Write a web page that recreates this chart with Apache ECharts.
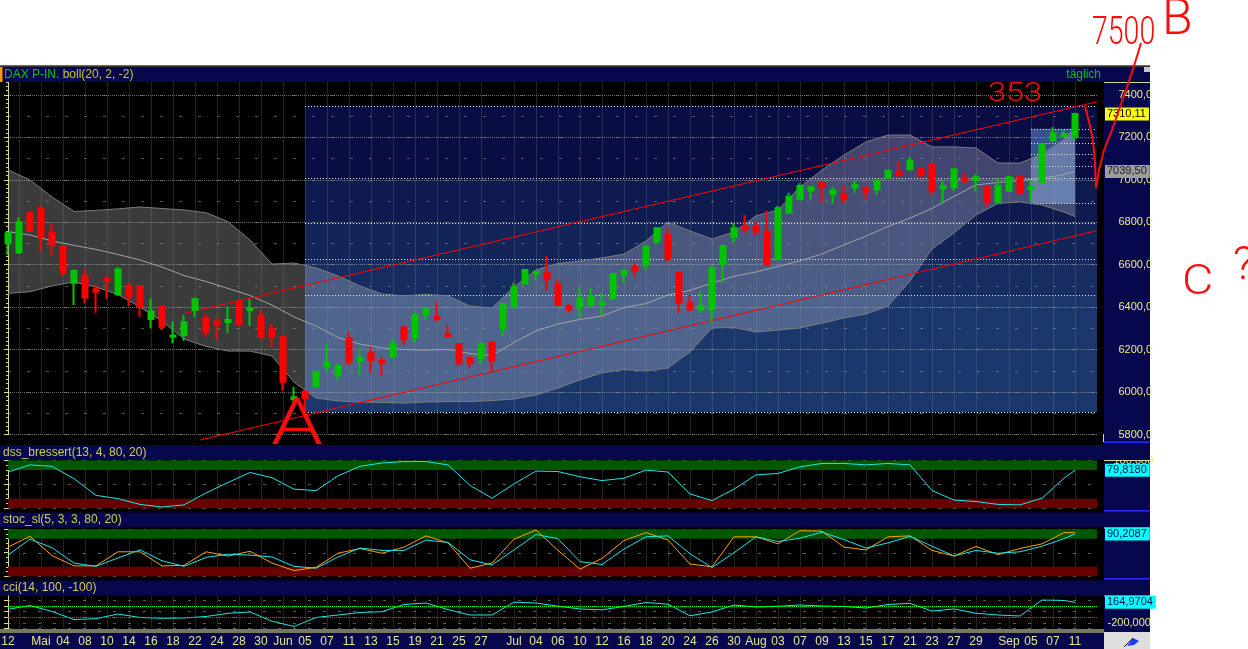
<!DOCTYPE html>
<html><head><meta charset="utf-8">
<script src="https://cdn.jsdelivr.net/npm/echarts@6/dist/echarts.min.js"></script>
<style>html,body{margin:0;padding:0;background:#ffffff;}#c{width:1248px;height:649px;}</style>
</head><body><div id="c"></div>
<script>
// ---------------- DATA ----------------
const candleOpen = [6701,6659,6845,6863,6751,6685,6515,6547,6484,6531,
 6462,6500,6500,6344,6402,6261,6269,6387,6348,6332,
 6330,6426,6387,6358,6296,6258,5967,6002,6029,6120,
 6080,6253,6148,6183,6146,6167,6303,6258,6366,6355,
 6274,6226,6159,6159,6233,6300,6405,6512,6560,6560,
 6509,6405,6398,6410,6413,6442,6556,6588,6599,6709,
 6740,6562,6418,6390,6390,6603,6729,6779,6779,6756,
 6626,6845,6908,6949,6984,6933,6933,6965,6955,6955,
 7012,7038,7050,7050,7070,6960,6965,7007,6999,6965,
 6897,6949,7012,6955,6991,7184,7207,7200];
const candleClose = [6748,6800,6760,6732,6693,6562,6570,6445,6473,6523,
 6578,6453,6402,6379,6308,6266,6329,6437,6284,6319,
 6340,6321,6395,6258,6264,6049,5975,5971,6096,6138,
 6123,6143,6159,6151,6138,6226,6249,6363,6390,6343,
 6264,6136,6138,6226,6148,6415,6494,6575,6567,6531,
 6410,6390,6438,6453,6421,6556,6572,6575,6685,6772,
 6626,6421,6390,6405,6583,6688,6772,6767,6756,6603,
 6866,6920,6971,6965,6971,6949,6908,6976,6944,6996,
 7043,7028,7090,7023,6949,6971,7050,6996,7012,6897,
 6971,7012,6939,6965,7169,7219,7216,7310.11];
const candleLow = [6646,6651,6756,6665,6646,6547,6410,6418,6374,6437,
 6453,6405,6355,6300,6292,6230,6242,6352,6261,6249,
 6280,6311,6311,6258,6211,6006,5939,5914,6020,6096,
 6053,6127,6080,6091,6080,6159,6222,6233,6340,6332,
 6258,6123,6112,6132,6096,6264,6395,6509,6525,6478,
 6405,6374,6352,6399,6363,6434,6512,6541,6578,6698,
 6619,6371,6379,6374,6327,6515,6704,6751,6735,6594,
 6626,6845,6902,6908,6892,6886,6886,6937,6908,6929,
 7003,7012,7043,7007,6924,6886,6949,6980,6944,6873,
 6897,6944,6924,6897,6984,7180,7203,7191];
const candleHigh = [6756,6824,6850,6878,6795,6685,6578,6575,6504,6547,
 6588,6515,6504,6442,6410,6332,6363,6446,6368,6348,
 6402,6434,6437,6387,6321,6258,6025,6010,6100,6226,
 6138,6284,6206,6214,6164,6249,6316,6374,6402,6426,
 6316,6230,6170,6233,6242,6415,6515,6578,6572,6641,
 6531,6418,6489,6494,6468,6560,6578,6610,6693,6776,
 6772,6567,6457,6478,6594,6693,6795,6834,6803,6855,
 6877,6939,6984,6965,6991,6965,6976,6996,6971,7003,
 7046,7085,7106,7050,7081,6996,7050,7034,7028,6976,
 7007,7018,7018,6999,7175,7248,7235,7316];

// indices (trading days) at which the band / indicator lines were read
const sampleIdx = [0,2,4,6,8,10,12,14,16,18,20,22,24,26,28,30,32,34,36,38,40,42,44,46,48,
 50,52,54,56,58,60,62,64,66,68,70,72,74,76,78,80,82,84,86,88,90,92,94,96,97];
const bandUpper = [7046,6999,6919,6851,6856,6863,6872,6865,6858,6845,6803,6716,6603,6608,6585,6547,6500,6462,6453,6460,6453,6405,6396,6495,6575,
 6606,6617,6632,6650,6712,6801,6759,6721,6754,6830,6858,6966,7046,7117,7178,7211,7211,7155,7155,7150,7079,7079,7120,7190,7250];
const bandMiddle = [6756,6740,6712,6691,6672,6648,6622,6589,6549,6521,6488,6455,6410,6354,6311,6257,6226,6208,6200,6198,6201,6181,6172,6234,6288,
 6321,6342,6358,6398,6417,6457,6479,6514,6545,6566,6592,6618,6651,6693,6735,6780,6820,6865,6922,6976,6987,6997,7006,7025,7039.5];
const bandLower = [6465,6473,6500,6519,6495,6460,6401,6335,6250,6215,6193,6193,6170,6047,5972,5958,5953,5951,5948,5953,5955,5955,5960,5967,5986,
 6019,6057,6090,6106,6099,6113,6189,6302,6304,6283,6292,6302,6325,6349,6368,6405,6523,6674,6750,6834,6889,6896,6881,6848,6827];
const dssValues = [76,91,88,62,27,20,8,2.5,7,32,54,75,64,40,37,68,88,95,98,98,91,48,21,51,78,
 77,66,58,63,80,76,30,16,40,70,73,87,94,94,91,94,91,37,17,14,8,7,21,63,79.818];
const stocK = [62,85,44,22,22,52,52,22,23,52,43,53,28,12,19,49,59,49,62,86,71,17,28,79,98.5,
 55,15,38,76,93,77,26,20,84,84,69,97,96,62,56,84,86,55,43,63.5,46,59,69,93,93];
const stocD = [45,79,61,28,21,39,56,33,21,40,47,45,41,21,17,41,60,55,55,77,72,35,24,56,89,
 80,31,25,58,84,86,48,18.5,50,84,74,81,94,78,60,71,85,64,43,55,49,52,64,80,90.2087];
const cciValues = [42,109,4,-138,-123,-41,-102,-116,-111,-85,-28,-5,-168,-261,-102,-58,-14,0,127,153,37,-58,-58,168,153,
 97,48,33,93,162,132,-72,-5,118,83,95,118,101,92,65,127,148,12,48,-28,-58,-76,206,198,164.9704];

// x-axis tick labels (trading-day index -> text) and vertical grid positions
const labelIdx = [0,3,5,7,9,11,13,15,17,19,21,23,25,27,29,31,33,35,37,39,41,43,46,48,50,52,54,56,58,60,62,64,66,68,70,72,74,76,78,80,82,84,86,88,91,93,95,97];
const labelText = ['12','Mai','04','08','10','14','16','18','22','24','28','30','Jun','05','07','11','13','15','19','21','25','27','Jul','04','06','10','12','16','18','20','24','26','30','Aug','03','07','09','13','15','17','21','23','27','29','Sep','05','07','11'];
const gridIdx = [1,3,5,7,9,11,13,15,17,19,21,23,25,27,29,31,33,35,37,39,41,43,46,48,50,52,54,56,58,60,62,64,66,68,70,72,74,76,78,80,82,84,86,88,91,93,95,97];

// Fibonacci retracements and trend channel
const fibLevels = [0, 23.6, 38.2, 50, 61.8, 100];
const fibLabels = ['0,0%','23,6%','38,2%','50,0%','61,8%','100,0%'];
const fibMainRange = [27, 99, 7350, 5905];     // fromIdx, toIdx, high, low
const fibSmallRange = [93, 99, 7350, 6889];
const fibSmallBoxEnd = 97;
const fibSmallLabelled = [0, 61.8, 100];
const trendUpper = [[16.1, 6371], [99, 7368]];
const trendLower = [[17.45, 5774], [99, 6760]];

const lastClose = 7310.11, lastMiddle = 7039.50, lastDss = 79.8180, lastStoc = 90.2087, lastCci = 164.9704;

// ---------------- BUILD ----------------
const N = 100;
const cats = Array.from({length: N}, (_, i) => String(i));
const labelMap = {}; labelIdx.forEach((k, j) => labelMap[k] = labelText[j]);
const gridSet = new Set(gridIdx);
const labelSet = new Set(labelIdx);
const pairs = vals => sampleIdx.map((k, j) => [k, vals[j]]);
const fibPrice = (r, lvl) => r[2] - (r[2] - r[3]) * lvl / 100;
const candleData = candleOpen.map((o, i) => [o, candleClose[i], candleLow[i], candleHigh[i]]);

const FONT = '"Liberation Sans", Arial, sans-serif';
const NAVY = '#07074e';
const AX = '#d8d890';

const zoneColors = ['#0a0d44', '#0f1a50', '#132458', '#172d62', '#1b376c', 'rgba(95,140,210,0.55)'];
const fibZones = [];
for (let k = 0; k < fibLevels.length - 1; k++) {
  fibZones.push([fibMainRange[0], fibMainRange[1], fibPrice(fibMainRange, fibLevels[k]), fibPrice(fibMainRange, fibLevels[k + 1])]);
}
fibZones.push([fibSmallRange[0], fibSmallBoxEnd, fibPrice(fibSmallRange, 23.6), fibPrice(fibSmallRange, 100)]);

const fibLineData = [];
fibLevels.forEach(l => fibLineData.push([fibMainRange[0], fibMainRange[1], fibPrice(fibMainRange, l)]));
fibLevels.forEach(l => fibLineData.push([fibSmallRange[0], fibSmallRange[1], fibPrice(fibSmallRange, l)]));

const fibTextData = [];
fibLevels.forEach((l, k) => fibTextData.push({value: [fibMainRange[0], fibPrice(fibMainRange, l)], txt: fibLabels[k]}));
fibSmallLabelled.forEach(l => fibTextData.push({value: [fibSmallRange[0], fibPrice(fibSmallRange, l)], txt: fibLabels[fibLevels.indexOf(l)]}));

const comma = (v, d) => v.toFixed(d).replace('.', ',');

function tag(value, text, bg, fg) {
  return {yAxis: value, lineStyle: {color: 'rgba(0,0,0,0)', width: 1},
    label: {show: true, position: 'end', distance: 8, formatter: text, backgroundColor: bg, color: fg,
      fontSize: 11, fontFamily: FONT, padding: [1, 3, 0, 2], lineHeight: 12}};
}

const G = {left: 8, width: 1089, outerBoundsMode: 'none', containLabel: false};
function catAxis(gi, withLabels) {
  return {type: 'category', gridIndex: gi, data: cats, boundaryGap: false,
    axisLine: {show: false}, axisTick: {show: false},
    axisLabel: withLabels ? {show: true, interval: (i) => labelSet.has(i), formatter: (v) => labelMap[Number(v)] || '',
      color: '#e6e68c', fontSize: 12, fontFamily: FONT, margin: 7} : {show: false},
    splitLine: {show: true, interval: (i) => gridSet.has(i), lineStyle: {color: 'rgba(150,150,150,0.45)', type: 'dotted', width: 1}}};
}
function valAxis(gi) { return {type: 'value', gridIndex: gi, min: 0, max: 99, show: false}; }
function rightAxis(gi, extra) {
  return Object.assign({type: 'value', gridIndex: gi, position: 'right', offset: 6.5,
    axisLine: {show: true, lineStyle: {color: AX, width: 1}},
    axisTick: {show: true, inside: true, length: 4, lineStyle: {color: AX}},
    splitLine: {show: true, lineStyle: {color: 'rgba(150,150,150,0.6)', type: [3, 12]}}}, extra);
}

function rect(x, y, w, h, fill, z) { return {type: 'rect', shape: {x, y, width: w, height: h}, style: {fill}, z, silent: true}; }
function txt(x, y, text, style, z, extra) {
  return Object.assign({type: 'text', x, y, style: Object.assign({text}, style), z: z || 8, silent: true}, extra || {});
}
const RED = '#ff0a0a';
const HAND = (size) => ({fill: RED, fontSize: size, fontFamily: 'Roboto, "DejaVu Sans", sans-serif', fontWeight: 300});

const graphics = [
  rect(0, 66, 1150, 583, '#000000', -10),
  rect(1104, 82, 46, 363, NAVY, -9),
  rect(1104, 460, 46, 53, NAVY, -9),
  rect(1104, 527, 46, 54, NAVY, -9),
  rect(1104, 595, 46, 38, NAVY, -9),
  rect(0, 633, 1150, 16, NAVY, -9),
  rect(0, 65, 1150, 1.5, '#6a6a6a', 6),
  rect(0, 67, 1150, 15, NAVY, 5),
  rect(0, 445, 1150, 15, NAVY, 5),
  rect(0, 512.5, 1150, 15, NAVY, 5),
  rect(0, 580.5, 1150, 15, NAVY, 5),
  rect(0, 67, 2.5, 15, '#ff9900', 6),
  rect(1144, 67, 6, 5, '#c8c8c8', 6),
  rect(1104, 82, 46, 1, AX, 6), rect(1104, 460, 46, 1, AX, 6), rect(1104, 527.5, 46, 1, AX, 6), rect(1104, 595.5, 46, 1, AX, 6),
  rect(1103, 434, 1, 8, AX, 6),
  rect(1104, 441.5, 46, 1.5, '#2a2aff', 6), rect(1104, 510, 46, 1.5, '#2a2aff', 6), rect(1104, 578, 46, 1.5, '#2a2aff', 6),
  rect(0, 629.5, 1104, 1, '#eeeec8', 6), rect(0, 631.5, 1104, 1, '#eeeec8', 6),
  rect(1104, 632, 46, 17, '#dedede', 6),
  {type: 'polygon', shape: {points: [[1127, 646], [1133, 638], [1139, 641], [1134, 645]]}, style: {fill: '#1a3cff'}, z: 7, silent: true},
  {type: 'polyline', shape: {points: [[1124, 647], [1133, 638]]}, style: {stroke: '#101010', lineWidth: 1}, z: 7, silent: true},
  // panel titles
  txt(4, 74.5, '{g|DAX P-IN.} {y|boll(20, 2, -2)}', {fontSize: 12, fontFamily: FONT, verticalAlign: 'middle',
    rich: {g: {fill: '#10c010', fontSize: 12, fontFamily: FONT}, y: {fill: '#c8c820', fontSize: 12, fontFamily: FONT}}}),
  txt(1101, 74.5, 'täglich', {fill: '#10c010', fontSize: 12, fontFamily: FONT, align: 'right', verticalAlign: 'middle'}),
  txt(3, 452.5, 'dss_bressert(13, 4, 80, 20)', {fill: '#cfcf48', fontSize: 12, fontFamily: FONT, verticalAlign: 'middle'}),
  txt(3, 520, 'stoc_sl(5, 3, 3, 80, 20)', {fill: '#cfcf48', fontSize: 12, fontFamily: FONT, verticalAlign: 'middle'}),
  txt(3, 588, 'cci(14, 100, -100)', {fill: '#cfcf48', fontSize: 12, fontFamily: FONT, verticalAlign: 'middle'}),
  // hand-drawn annotations
  txt(1092, 15, '7500', HAND(38), 100, {scaleX: 0.75}),
  txt(1162, -4, 'B', HAND(50), 100),
  txt(988, 82, '353', HAND(25), 100, {scaleX: 1.3}),
  txt(1182, 262, 'C', HAND(42), 100, {scaleX: 1.15}),
  txt(1233, 244, '?', HAND(46), 100),
  txt(271, 396, 'A', HAND(64), 100, {scaleX: 1.3}),
  {type: 'polyline', shape: {points: [[1141, 43], [1134, 66], [1128, 84], [1120, 107], [1112, 130], [1104, 150], [1099, 170], [1096, 188]]},
    style: {stroke: RED, lineWidth: 2, fill: null}, z: 100, silent: true},
  {type: 'polyline', shape: {points: [[1085, 106], [1090, 126], [1093, 141], [1095, 162], [1096, 188]]},
    style: {stroke: RED, lineWidth: 2, fill: null}, z: 100, silent: true}
];

const option = {
  animation: false,
  backgroundColor: '#ffffff',
  grid: [
    Object.assign({top: 73.7, height: 360.8}, G),
    Object.assign({top: 460.6, height: 47.6}, G),
    Object.assign({top: 529.3, height: 46.9}, G),
    Object.assign({top: 594.7, height: 34}, G)
  ],
  xAxis: [catAxis(0, false), valAxis(0), catAxis(1, false), valAxis(1), catAxis(2, false), valAxis(2), catAxis(3, true), valAxis(3)],
  yAxis: [
    rightAxis(0, {min: 5800, max: 7500, interval: 200,
      minorTick: {show: true, splitNumber: 10, length: 2, lineStyle: {color: AX}},
      axisLabel: {color: '#ecec88', fontSize: 11, fontFamily: FONT, margin: 15,
        formatter: v => (v % 200 === 0 && v <= 7400) ? (v.toFixed(0) + ',0') : ''},
      splitLine: {show: true, lineStyle: {color: 'rgba(175,175,175,0.6)', type: 'dotted'}}}),
    {type: 'value', gridIndex: 0, position: 'right', min: 5800, max: 7500, interval: 100,
      axisLine: {show: false}, axisTick: {show: false}, axisLabel: {show: false},
      splitLine: {show: true, lineStyle: {color: 'rgba(150,150,150,0.55)', type: [3, 16]}}},
    rightAxis(1, {min: 0, max: 100, interval: 50,
      minorTick: {show: true, splitNumber: 5, length: 2, lineStyle: {color: AX}},
      axisLabel: {color: '#ecec88', fontSize: 11, fontFamily: FONT, margin: 10, formatter: v => v === 100 ? '100,000' : ''}}),
    rightAxis(2, {min: 0, max: 100, interval: 50,
      minorTick: {show: true, splitNumber: 5, length: 2, lineStyle: {color: AX}},
      axisLabel: {show: false}}),
    rightAxis(3, {min: -300, max: 300, interval: 100,
      axisLabel: {color: '#ecec88', fontSize: 11, fontFamily: FONT, margin: 4, formatter: v => v === -200 ? '-200,000' : ''}})
  ],
  graphic: {elements: graphics},
  series: [
    { // fibonacci shaded zones
      type: 'custom', xAxisIndex: 1, yAxisIndex: 0, z: -6, silent: true, clip: false,
      encode: {x: [0, 1], y: [2, 3]}, data: fibZones,
      renderItem: (params, api) => {
        const a = api.coord([api.value(0), api.value(2)]);
        const b = api.coord([api.value(1), api.value(3)]);
        return {type: 'rect', shape: {x: a[0], y: a[1], width: b[0] - a[0], height: b[1] - a[1]},
          style: {fill: zoneColors[params.dataIndex]}};
      }
    },
    { // bollinger band fill
      type: 'custom', xAxisIndex: 1, yAxisIndex: 0, z: -5, silent: true, clip: false,
      data: [[0, bandMiddle[0]]],
      renderItem: (params, api) => {
        const up = sampleIdx.map((k, j) => api.coord([k, bandUpper[j]]));
        const lo = sampleIdx.map((k, j) => api.coord([k, bandLower[j]])).reverse();
        return {type: 'polygon', shape: {points: up.concat(lo)}, style: {fill: 'rgba(255,255,255,0.23)'}};
      }
    },
    { // fibonacci level lines
      type: 'custom', xAxisIndex: 1, yAxisIndex: 0, z: 1, silent: true, clip: false,
      encode: {x: [0, 1], y: 2}, data: fibLineData,
      renderItem: (params, api) => {
        const a = api.coord([api.value(0), api.value(2)]);
        const b = api.coord([api.value(1), api.value(2)]);
        const y = Math.round(a[1]) + 0.5;
        return {type: 'line', shape: {x1: a[0], y1: y, x2: b[0], y2: y},
          style: {stroke: '#e6ecff', lineWidth: 1, lineDash: [1, 2]}};
      }
    },
    { // fibonacci labels
      type: 'scatter', xAxisIndex: 1, yAxisIndex: 0, z: 2, silent: true, symbolSize: 1,
      itemStyle: {opacity: 0}, data: fibTextData,
      label: {show: true, position: [2, 2], formatter: p => p.data.txt, color: '#cdd6f6', fontSize: 11, fontFamily: FONT}
    },
    {type: 'line', xAxisIndex: 1, yAxisIndex: 0, z: 2, data: pairs(bandUpper), symbol: 'none', silent: true,
      lineStyle: {color: '#7c7c7c', width: 1}},
    {type: 'line', xAxisIndex: 1, yAxisIndex: 0, z: 2, data: pairs(bandLower), symbol: 'none', silent: true,
      lineStyle: {color: '#7c7c7c', width: 1}},
    {type: 'line', xAxisIndex: 1, yAxisIndex: 0, z: 2, data: pairs(bandMiddle), symbol: 'none', silent: true,
      lineStyle: {color: '#a2a2a2', width: 1}},
    {type: 'line', xAxisIndex: 1, yAxisIndex: 0, z: 3, data: trendUpper, symbol: 'none', silent: true, clip: false,
      lineStyle: {color: '#ff0000', width: 1}},
    {type: 'line', xAxisIndex: 1, yAxisIndex: 0, z: 3, data: trendLower, symbol: 'none', silent: true, clip: false,
      lineStyle: {color: '#ff0000', width: 1}},
    {type: 'candlestick', xAxisIndex: 0, yAxisIndex: 0, z: 4, data: candleData, barWidth: 6, clip: false, silent: true,
      itemStyle: {color: '#00c400', color0: '#ff0000', borderColor: '#00c400', borderColor0: '#ff0000', borderWidth: 2},
      markLine: {silent: true, symbol: ['none', 'none'], animation: false, z: 10,
        data: [tag(lastClose, comma(lastClose, 2), '#ffff00', '#000000'), tag(lastMiddle, comma(lastMiddle, 2), '#9c9c9c', '#202020')]}},
    // DSS
    {type: 'line', xAxisIndex: 3, yAxisIndex: 2, data: pairs(dssValues), symbol: 'none', silent: true,
      lineStyle: {color: '#1ce6e6', width: 1},
      markArea: {silent: true, data: [
        [{yAxis: 80, itemStyle: {color: '#005800'}}, {yAxis: 100}],
        [{yAxis: 0, itemStyle: {color: '#680000'}}, {yAxis: 20}]]},
      markLine: {silent: true, symbol: ['none', 'none'], z: 10, data: [tag(lastDss, comma(lastDss, 4), '#00ffff', '#00104a')]}},
    // Stochastic
    {type: 'line', xAxisIndex: 5, yAxisIndex: 3, data: pairs(stocK), symbol: 'none', silent: true, z: 3,
      lineStyle: {color: '#ffa000', width: 1},
      markArea: {silent: true, data: [
        [{yAxis: 80, itemStyle: {color: '#005800'}}, {yAxis: 100}],
        [{yAxis: 0, itemStyle: {color: '#680000'}}, {yAxis: 20}]]}},
    {type: 'line', xAxisIndex: 5, yAxisIndex: 3, data: pairs(stocD), symbol: 'none', silent: true, z: 4,
      lineStyle: {color: '#1ce6e6', width: 1},
      markLine: {silent: true, symbol: ['none', 'none'], z: 10, data: [tag(lastStoc, comma(lastStoc, 4), '#00ffff', '#00104a')]}},
    // CCI
    {type: 'line', xAxisIndex: 7, yAxisIndex: 4, data: pairs(cciValues), symbol: 'none', silent: true, z: 4,
      lineStyle: {color: '#1ce6e6', width: 1},
      markLine: {silent: true, symbol: ['none', 'none'], z: 10, data: [
        {yAxis: 100, lineStyle: {color: '#00ff00', type: 'dotted', width: 1}, label: {show: false}},
        {yAxis: -100, lineStyle: {color: '#ff2020', type: 'dotted', width: 1}, label: {show: false}},
        tag(lastCci, comma(lastCci, 4), '#00ffff', '#00104a')]}}
  ]
};

const chart = echarts.init(document.getElementById('c'), null, {renderer: 'canvas', width: 1248, height: 649});
chart.setOption(option);
</script>
</body></html>
